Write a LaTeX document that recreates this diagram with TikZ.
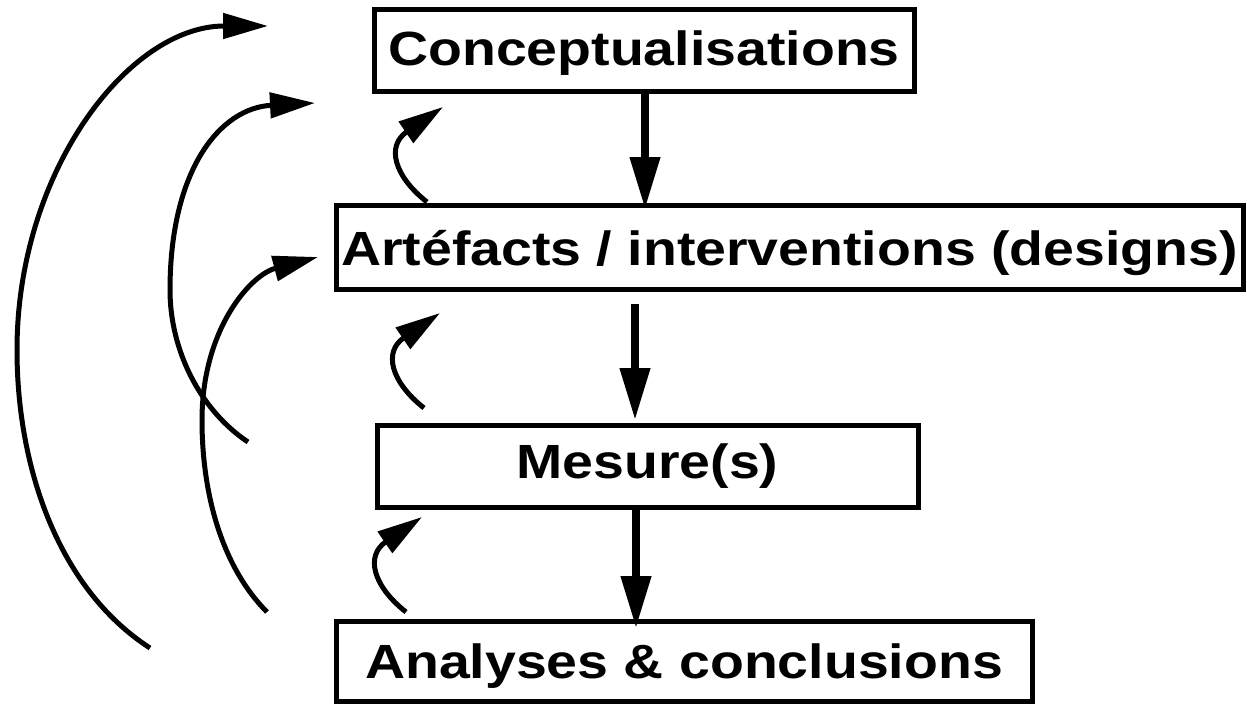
\documentclass[tikz,border=0pt]{standalone}
\usepackage{fontspec}
\newfontfamily\boxfont{Liberation Sans}[FakeStretch=1.155]
\usetikzlibrary{arrows.meta,calc}
\begin{document}
\begin{tikzpicture}[x=1pt,y=-1pt,
  box/.style={draw, line width=5pt, inner sep=0pt, outer sep=0pt,
    font=\boxfont\bfseries\fontsize{48}{52}\selectfont, text height=40pt},
  varrow/.style={line width=7.5pt, -{Triangle[length=52pt,width=29pt]}},
  carrow/.style={line width=5pt, -{Triangle[length=45pt,width=25pt]}}]
\useasboundingbox (0,0) rectangle (1247,704);

\node[box, minimum width=540pt, minimum height=82pt, text depth=10pt] (c) at (644,50) {Conceptualisations};
\node[box, minimum width=907pt, minimum height=84pt, text depth=4pt] (a) at (789.5,247) {Artéfacts / interventions (designs)};
\node[box, minimum width=541pt, minimum height=81.5pt, text depth=16pt] (m) at (647.5,466.25) {Mesure(s)};
\node[box, minimum width=696pt, minimum height=79.5pt, text depth=6pt] (n) at (684,661.25) {Analyses \& conclusions};

% vertical arrows
\draw[varrow] ($(c.south)+(1,0)$) -- ($(c.south |- a.north)+(1,4)$);
\draw[varrow] ($(a.south -| m.north)+(-12.5,15)$) -- ($(m.north)+(-12.5,-5.5)$);
\draw[varrow] ($(m.south)+(-11.5,3)$) -- ($(m.south |- n.north)+(-11.5,6.5)$);

% small feedback arrows
\coordinate (sa) at (427,202); \coordinate (ta) at (443,107);
\coordinate (sb) at (424,408); \coordinate (tb) at (440,313);
\coordinate (sc) at (406,612); \coordinate (tc) at (422,517);
\draw[carrow] (sa) .. controls +(-33,-26) and +(-57,39) .. (ta);
\draw[carrow] (sb) .. controls +(-33,-26) and +(-57,39) .. (tb);
\draw[carrow] (sc) .. controls +(-33,-26) and +(-57,39) .. (tc);

% large feedback curves
\coordinate (s1) at (150,648); \coordinate (t1) at (268,26);
\coordinate (s2) at (248,442); \coordinate (t2) at (315,103);
\coordinate (s3) at (267,612); \coordinate (t3) at (318,257);
\draw[carrow] (s1) .. controls (60,590) and (17,470) .. (17,350)
  .. controls (17,171) and (129,26) .. (t1);
\draw[carrow] (s2) .. controls (200,410) and (170,350) .. (170,290)
  .. controls (170,170) and (220,108) .. (t2);
\draw[carrow] (s3) .. controls (225,570) and (202,500) .. (202,420)
  .. controls (202,330) and (250,275) .. (t3);
\end{tikzpicture}
\end{document}
